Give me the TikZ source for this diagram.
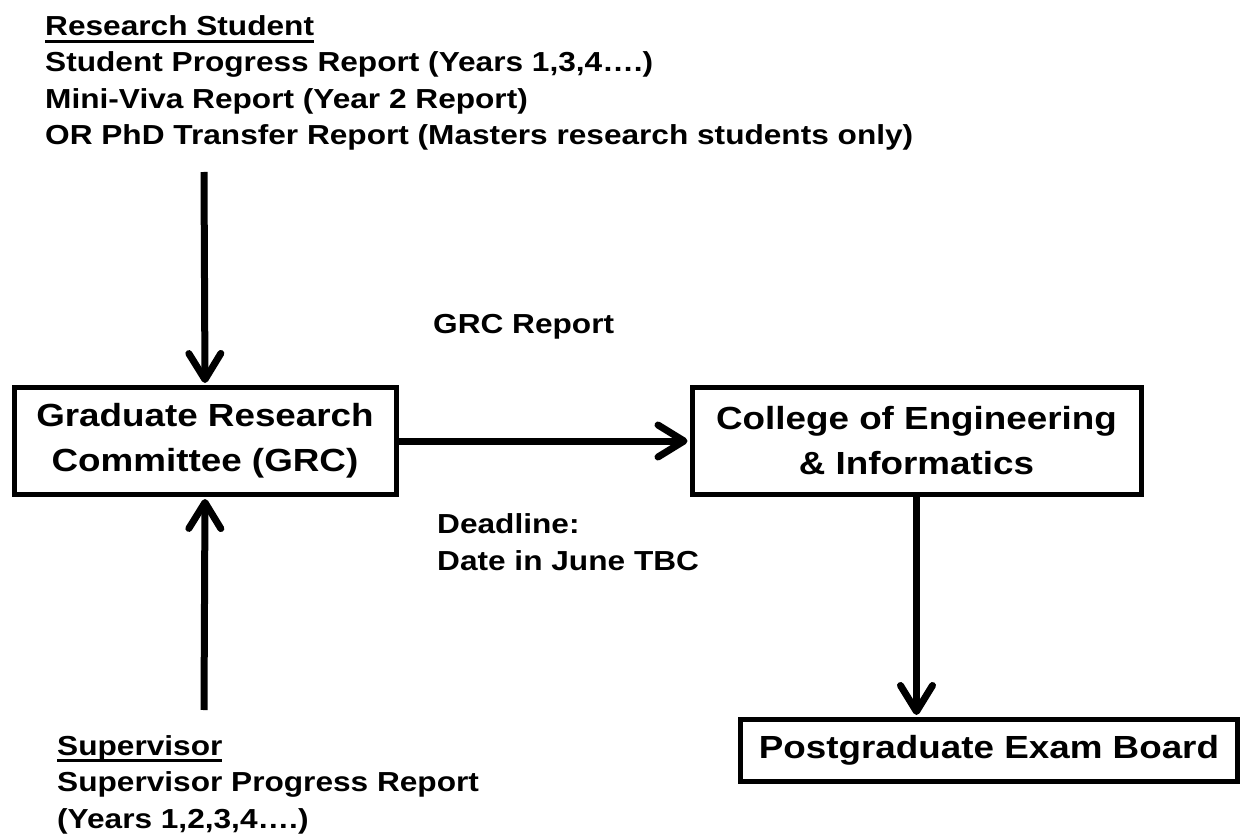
\documentclass[tikz,border=0pt]{standalone}
\usepackage{fontspec}
\setmainfont{Liberation Sans}[FakeStretch=1.15]
\usetikzlibrary{arrows.meta, positioning}

\newcommand{\thickul}[1]{\leavevmode\setbox0\hbox{#1}\rlap{\rule[-7pt]{\wd0}{3pt}}\box0}

\tikzset{
  box/.style={draw, line width=5pt, font=\bfseries\fontsize{32}{45}\selectfont, align=center, inner sep=0pt},
  note/.style={font=\bfseries\fontsize{27.5}{36.7}\selectfont, align=left, inner sep=0pt},
  flow/.style={line width=7pt, shorten >=2pt, -{Straight Barb[length=26pt,width=32pt,round]}},
}

\begin{document}
\begin{tikzpicture}[x=1pt, y=-1pt]
\useasboundingbox (0,0) rectangle (1243,837);
% boxes
\node[box, minimum width=382, minimum height=107] (grc) at (205,441) {Graduate Research\\Committee (GRC)};
\node[box, minimum width=449, minimum height=107] (coe) at (916.5,441) {College of Engineering\\\& Informatics};
\node[box, minimum width=497, minimum height=62] (peb) at (989,750.5) {Postgraduate Exam Board};
% texts
\node[note, anchor=base west] (student) at (45,36) {\thickul{Research Student}};
\node[note, anchor=north west] (studentrep) at ([yshift=-8pt]student.south west) {Student Progress Report (Years 1,3,4….)\\Mini-Viva Report (Year 2 Report)\\OR PhD Transfer Report (Masters research students only)};
\node[note, anchor=base west] (super) at (57,755) {\thickul{Supervisor}};
\node[note, anchor=north west] (superrep) at ([yshift=-9pt]super.south west) {Supervisor Progress Report\\(Years 1,2,3,4….)};
\node[note, anchor=base west] (grcrep) at (433,333) {GRC Report};
\node[note, anchor=base west] (deadline) at (437,533) {Deadline:};
\node[note, anchor=base west] (duedate) at (437,570) {Date in June TBC};
% connectors
\coordinate (stufoot) at (204,172);
\coordinate (supfoot) at (204,710);
\draw[flow] (stufoot) -- (grc.north);
\draw[flow] (supfoot) -- (grc.south);
\draw[flow] (grc.east) -- (grc.east -| coe.west);
\draw[flow] (coe.south) -- (coe.south |- peb.north);
\end{tikzpicture}
\end{document}
